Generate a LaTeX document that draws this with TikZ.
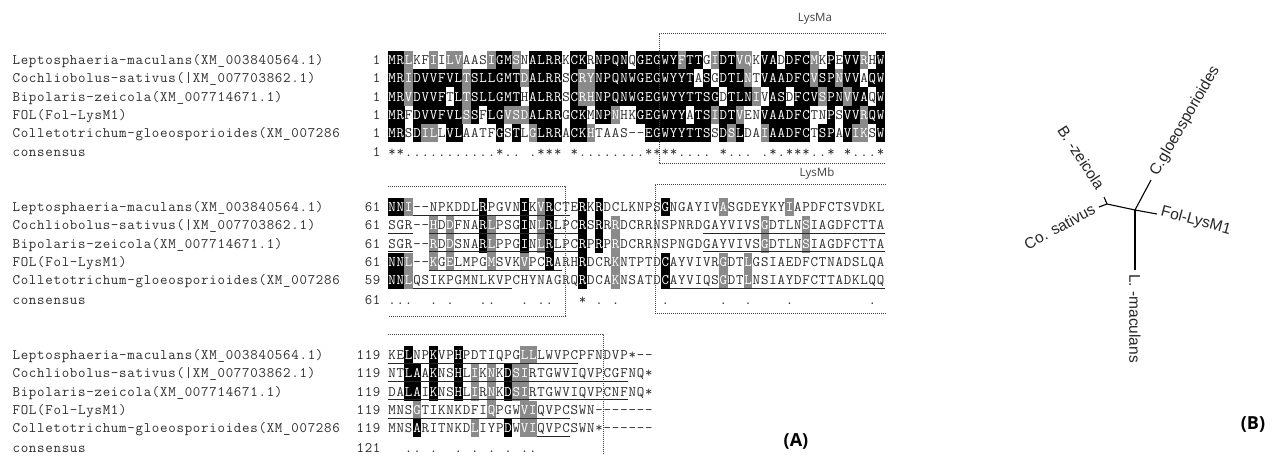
\documentclass[tikz,border=0pt]{standalone}
\usepackage{fontspec}
\newfontfamily\treefont{Liberation Sans}
\newfontfamily\labfont{Open Sans}
\definecolor{shadeg}{RGB}{138,138,138}
\definecolor{txt}{RGB}{45,45,45}
\newcount\colidx
\makeatletter
\def\cw{8.28}\def\rh{18.3}\def\bo{4.4}
\newcommand\seqfont{\ttfamily\fontsize{14.5}{16}\selectfont}
\newcommand\seqrow[4]{\def\sr@id{#1}\def\sr@y{#2}\colidx=0 \sr@walk#3\relax#4\relax}
\def\sr@walk#1#2\relax#3#4\relax{%
  \pgfmathsetmacro\sr@cx{388+\cw*\the\colidx+\cw/2}%
  \def\sr@tc{txt}%
  \if#3b\fill[black] (\sr@cx-\cw/2-0.1,\sr@y-\rh/2) rectangle (\sr@cx+\cw/2+0.1,\sr@y+\rh/2);\def\sr@tc{white}\fi
  \if#3g\fill[shadeg] (\sr@cx-\cw/2-0.1,\sr@y-\rh/2) rectangle (\sr@cx+\cw/2+0.1,\sr@y+\rh/2);\def\sr@tc{white}\fi
  \if#10\else\node[ch,text=\sr@tc] (s\sr@id-\the\colidx) at (\sr@cx,\sr@y+\bo) {#1};\fi
  \advance\colidx by 1
  \ifx\relax#2\relax\else\sr@walk#2\relax#4\relax\fi}
\newcommand\spaced[1]{\sp@walk#1\relax}
\def\sp@walk#1#2\relax{\makebox[8.2pt]{#1}\ifx\relax#2\relax\else\sp@walk#2\relax\fi}
\makeatother
\newcommand\arow[6]{%
  \node[lab] (n#1) at (12,#2+\bo) {\spaced{#3}};
  \node[num] (k#1) at (381,#2+\bo) {\spaced{#4}};
  \seqrow{#1}{#2}{#5}{#6}}
\newcommand\ulin[3]{\draw[uline] (388+\cw*#2-\cw,#1+8) -- (388+\cw*#3,#1+8);}
\begin{document}
\begin{tikzpicture}[x=1pt,y=-1pt,
  ch/.style={inner sep=0pt, anchor=base, font=\seqfont},
  lab/.style={inner sep=0pt, anchor=base west, font=\seqfont, text=txt},
  num/.style={inner sep=0pt, anchor=base east, font=\seqfont, text=txt},
  dotbox/.style={line width=0.9pt, dash pattern=on 1pt off 1pt, draw=black!75},
  uline/.style={line width=0.6pt, draw=black!85},
  tree/.style={line width=1.1pt, draw=black},
  treelab/.style={font=\treefont\fontsize{15.5}{17}\selectfont, inner sep=0pt, text=black!85},
  domlab/.style={font=\labfont\fontsize{11.5}{13}\selectfont, text=black!75, inner sep=0pt},
  panlab/.style={font=\labfont\bfseries\fontsize{18}{21}\selectfont, text=black, inner sep=0pt}]
\fill[white] (0,0) rectangle (1276,455);
\useasboundingbox (0,0) rectangle (1276,455);

% ---------- block 1 ----------
\arow{a1}{60}{Leptosphaeria-maculans(XM\_003840564.1)}{1}{MRLKFIILVAASIGMSNALRRKCKRNPQNQGEGWYFTTGIDTVQKVADDFCMKPEVVRHW}{bbg--g-gg---gbbg-bbbb-bb-bbbb-bbbbbgbb-gbbgg-bb-bbbg-b-bbg-b}
\arow{a2}{78.3}{Cochliobolus-sativus(|XM\_007703862.1)}{1}{MRIDVVFVLTSLLGMTDALRRSCRYNPQNWGEGWYYTASGDTLNTVAADFCVSPNVVAQW}{bbgbbbbbbgbbbbbbgbbbb-bggbbbbbbbbbbbb-b-bbbg-bbbbbbgbbgbb-bb}
\arow{a3}{96.6}{Bipolaris-zeicola(XM\_007714671.1)}{1}{MRVDVVFTLTSLLGMTHALRRSCRHNPQNWGEGWYYTTSGDTLNIVASDFCVSPNVVAQW}{bbgbbbb-bgbbbbbb-bbbb-bggbbbbbbbbbbbbbbb-bbbg-bb-bbbgbbgbb-bb}
\arow{a4}{114.9}{FOL(Fol-LysM1)}{1}{MRFDVVFVLSSFLGVSDALRRGCKMNPNHKGEGWYYATSIDTVENVAADFCTNPSVVRQW}{bb-bbbbbbgb-bbgggbbbb-bb-bbg--bbbbbb-bbgbbg--bbbbbb--b-bbgbb}
\arow{a5}{133.2}{Colletotrichum-gloeosporioides(XM\_007286}{1}{MRSDILLVLAATFGSTLGLRRACKHTAAS--EGWYYTTSSDSLDAIAADFCTSPAVIKSW}{bb-bgg-bb----b-b-gbbb-bbg------bbbbbbbb-bgb--gbbbbb-bb-bgg-b}
\arow{a6}{152}{consensus}{1}{**...........*..0.***0*........****....0*...0.*.***..*0*...*}{------------------------------------------------------------}

% ---------- block 2 ----------
\arow{b1}{207}{Leptosphaeria-maculans(XM\_003840564.1)}{61}{NNI--NPKDDLRPGVNIKVRCTERKRDCLKNPSGNGAYIVASGDEYKYIAPDFCTSVDKL}{bbg--------b----b-gb---b-b-------b------g-------g-----------}
\arow{b2}{225.3}{Cochliobolus-sativus(|XM\_007703862.1)}{61}{SGR--HDDFNARLPSGINLRLPCRSRRRDCRRNSPNRDGAYVIVSGDTLNSIAGDFCTTA}{-----g-g---bg---b-gb---b-b-g-----------------g----g---------b}
\arow{b3}{243.6}{Bipolaris-zeicola(XM\_007714671.1)}{61}{SGR--RDDSNARLPPGINLRLPCRPRPRDCRRNSPNGDGAYVIVSGDTLNSIAGDFCTTA}{-----g-g---bg---b-gb---b-b-g-----------------g----g---------b}
\arow{b4}{261.9}{FOL(Fol-LysM1)}{61}{NNL--KGELMPGMSVKVPCRARHRDCRKNTPTDCAYVIVRGDTLGSIAEDFCTNADSLQA}{bbg--g-g----g---g--b---b---g-----b------g--g----------------b}
\arow{b5}{280.2}{Colletotrichum-gloeosporioides(XM\_007286}{59}{NNLQSIKPGMNLKVPCHYNAGRQRDCAKNSATDCAYVIQSGDTLNSIAYDFCTTADKLQQ}{bbg--------------------b---g-----b------g--g-----------------}
\arow{b6}{300}{consensus}{61}{...00.0.000..000.0..000*0.0.00000.000000.00.0000.000000000.0}{------------------------------------------------------------}

% ---------- block 3 ----------
\arow{c1}{355}{Leptosphaeria-maculans(XM\_003840564.1)}{119}{KELNPKVPHPDTIQPGLLLWVPCPFNDVP*--}{--b--b--b-------gg--------------}
\arow{c2}{373.3}{Cochliobolus-sativus(|XM\_007703862.1)}{119}{NTLAAKNSHLIKNKDSIRTGWVIQVPCGFNQ*}{--bb-b--b-g-g-bgg---------------}
\arow{c3}{391.6}{Bipolaris-zeicola(XM\_007714671.1)}{119}{DALAIKNSHLIRNKDSIRTGWVIQVPCNFNQ*}{--bb-b--b-g-g-bgg---------------}
\arow{c4}{409.9}{FOL(Fol-LysM1)}{119}{MNSGTIKNKDFIQPGWVIQVPCSWN-------}{---g--------g---gg--------------}
\arow{c5}{428.2}{Colletotrichum-gloeosporioides(XM\_007286}{119}{MNSARITNKDLIYPDWVIQVPCSWN*------}{---b------g---b-gg--------------}
\arow{c6}{448}{consensus}{121}{00..0.00.0.0.0.0..}{------------------}

% ---------- underlines ----------
\ulin{207}{4}{22}
\ulin{225.3}{1}{3}\ulin{225.3}{6}{23}\ulin{225.3}{39}{60}
\ulin{243.6}{1}{3}\ulin{243.6}{6}{23}\ulin{243.6}{39}{60}
\ulin{261.9}{6}{21}
\ulin{280.2}{4}{15}\ulin{280.2}{35}{60}
\ulin{355}{1}{23}
\ulin{373.3}{1}{29}
\ulin{391.6}{1}{29}
\ulin{409.9}{1}{22}
\ulin{428.2}{19}{22}

% ---------- dotted domain boxes ----------
\coordinate (ma1) at (886,33); \coordinate (ma2) at (659,33);
\coordinate (ma3) at (659,163); \coordinate (ma4) at (886,163);
\draw[dotbox] (ma1) -- (ma2) -- (ma3) -- (ma4);
\coordinate (la1) at (388,186); \coordinate (la2) at (565,186);
\coordinate (la3) at (565,316); \coordinate (la4) at (388,316);
\draw[dotbox] (la1) -- (la2) -- (la3) -- (la4);
\coordinate (mb1) at (886,184); \coordinate (mb2) at (655,184);
\coordinate (mb3) at (655,313); \coordinate (mb4) at (886,313);
\draw[dotbox] (mb1) -- (mb2) -- (mb3) -- (mb4);
\coordinate (lc1) at (388,334); \coordinate (lc2) at (603,334);
\coordinate (lc3) at (603,455);
\draw[dotbox] (lc1) -- (lc2) -- (lc3);
\node[domlab] (lysma) at (815,19) {LysMa};
\node[domlab] (lysmb) at (817,174) {LysMb};

% ---------- tree ----------
\coordinate (c0) at (1135,210);
\coordinate (jn) at (1107,204);
\coordinate (tC) at (1151,180);
\coordinate (tF) at (1157,214);
\coordinate (tL) at (1135,270);
\coordinate (tB) at (1104,197);
\coordinate (tS) at (1099,207);
\draw[tree] (c0) -- (tC);
\draw[tree] (c0) -- (tF);
\draw[tree] (c0) -- (tL);
\draw[tree] (c0) -- (jn);
\draw[tree] (jn) -- (tB);
\draw[tree] (jn) -- (tS);
\node[treelab, rotate=60, anchor=west] (lC) at (1154,175) {C.gloeosporioides};
\node[treelab, rotate=-15, anchor=west] (lF) at (1161,212) {Fol-LysM1};
\node[treelab, rotate=-90, anchor=west] (lL) at (1135,274) {L. -maculans};
\node[treelab, rotate=-57, anchor=east] (lB) at (1101,188) {B. -zeicola};
\node[treelab, rotate=28.5, anchor=east] (lS) at (1094,208) {Co. sativus};

% ---------- panel labels ----------
\node[panlab] (pA) at (796,441) {(A)};
\node[panlab] (pB) at (1253,424) {(B)};
\end{tikzpicture}
\end{document}
